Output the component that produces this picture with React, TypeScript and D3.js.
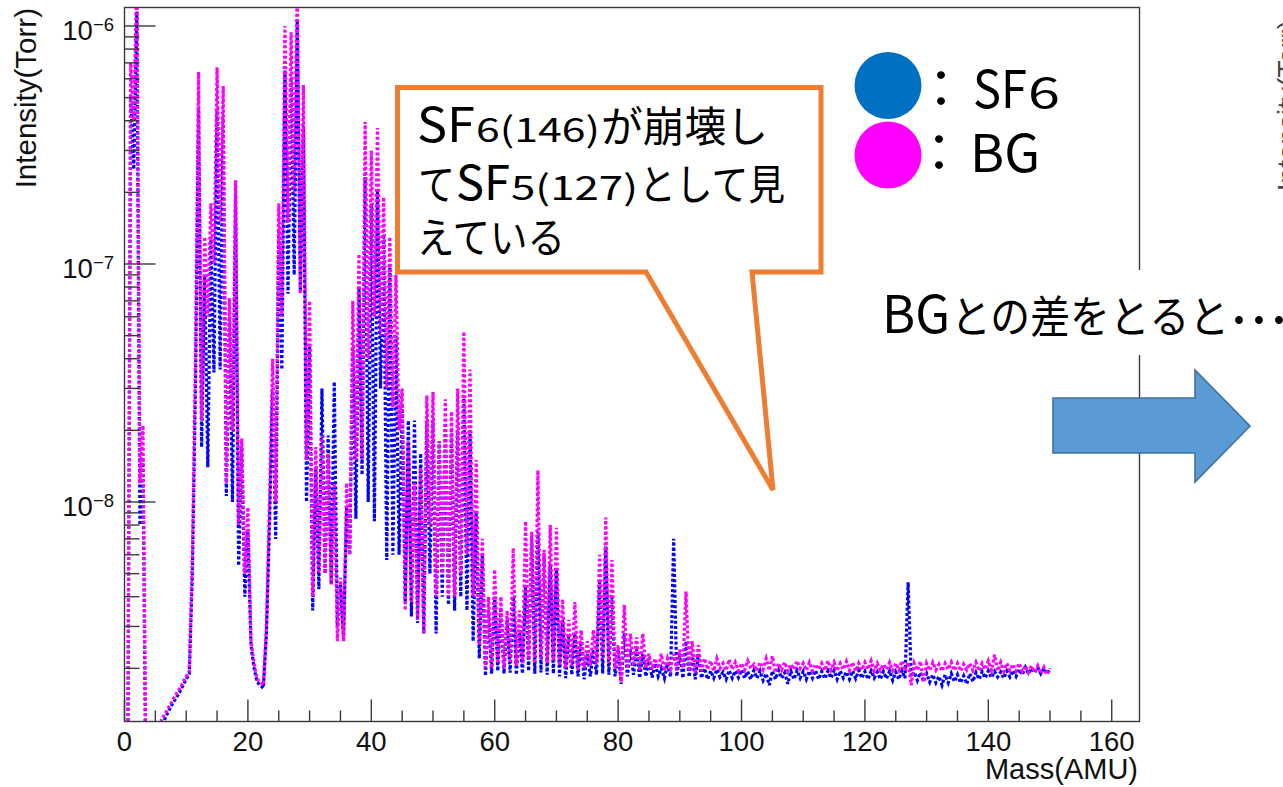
import React from 'react';
import * as d3 from 'd3';

// Mass axis ticks (AMU)
const X_MAJOR_TICKS = [0, 20, 40, 60, 80, 100, 120, 140, 160];
const X_MINOR_STEP = 5;
const Y_MAJOR_EXPONENTS = [-6, -7, -8];
const NTORR = 1e-9;

// Peak value at each integer mass 0..150 (nTorr) — BG (magenta)
const bgPeak = [
  0.5, 700, 1600, 21, 0.5, 0.5, 1.22, 1.35, 1.5, 1.65,
  1.85, 6, 640, 130, 180, 670, 560, 72, 225, 18.5,
  9.5, 2.1, 1.75, 3, 40, 180, 1000, 940, 1500, 565,
  70, 17, 19, 16, 12, 4.8, 12, 70, 110, 395,
  300, 373, 191, 130, 90, 30, 18, 12, 14, 28,
  29, 18, 27, 24, 30, 52, 36, 15, 7, 4,
  5.2, 4, 3.5, 6.4, 3.5, 8.3, 7.5, 13.6, 6.3, 8,
  7.8, 3.9, 3.2, 3.8, 2.9, 2.6, 2.9, 6, 8.6, 5.7,
  2.5, 3.7, 2.8, 2.7, 2.8, 2.3, 2.2, 2.3, 2.2, 2.3,
  2.4, 4.2, 2.6, 2.5, 2.2, 2.15, 2.2, 2.1, 2.18, 2.12,
  2.1, 2.15, 2.08, 2.12, 2.2, 2.25, 2.1, 2.12, 2.08, 2.15,
  2.1, 2.12, 2.08, 2.1, 2.15, 2.12, 2.1, 2.14, 2.12, 2.1,
  2.12, 2.15, 2.1, 2.08, 2.12, 2.1, 2.15, 2.12, 2.1, 2.14,
  2.1, 2.12, 2.08, 2.1, 2.12, 2.1, 2.08, 2.1, 2.12, 2.1,
  2.15, 2.28, 2.12, 2.1, 2.08, 2.1, 2.05, 2.05, 2.05, 2.02,
  2.0,
];
// Valley value between mass m and m+1 (nTorr) — BG
const bgValley = [
  0.5, 400, 12, 0.5, 0.5, 0.6, 1.28, 1.42, 1.58, 1.75,
  1.95, 40, 22, 60, 100, 150, 12, 20, 8, 5,
  2.6, 1.8, 1.7, 10, 10, 60, 150, 200, 75, 15,
  4, 5, 5, 4.5, 2.6, 2.6, 6, 15, 15, 40,
  60, 50, 30, 25, 20, 3.5, 3.8, 3.2, 2.8, 8,
  4, 5, 4, 4, 5, 6, 4, 2.5, 2.0, 2.0,
  2.1, 2.0, 2.1, 2.05, 2.1, 2.2, 2.1, 2.2, 2.1, 2.15,
  2.05, 2.0, 2.05, 1.95, 2.0, 2.05, 2.1, 2.2, 2.1, 2.0,
  1.75, 2.0, 2.05, 1.95, 2.0, 1.98, 2.0, 1.95, 2.0, 1.98,
  2.0, 1.95, 1.9, 1.95, 1.98, 1.95, 2.0, 1.96, 1.98, 1.95,
  1.97, 2.0, 1.95, 1.98, 1.96, 1.92, 1.97, 1.95, 1.98, 2.0,
  1.96, 1.95, 1.98, 1.96, 1.97, 1.95, 1.98, 1.96, 1.95, 1.97,
  1.98, 1.95, 1.96, 1.98, 1.96, 1.97, 1.95, 1.7, 1.96, 1.75,
  1.96, 1.97, 1.95, 1.98, 1.96, 1.95, 1.97, 1.96, 1.95, 1.98,
  1.96, 1.95, 1.94, 1.96, 1.95, 1.94, 1.92, 1.93, 1.9, 1.88,
];
// Peak value at each integer mass 0..150 (nTorr) — SF6 (blue)
const sf6Peak = [
  0.5, 500, 1150, 15, 0.5, 0.5, 1.1, 1.3, 1.45, 1.6,
  1.8, 5, 450, 90, 130, 450, 420, 60, 195, 17,
  7.5, 2.0, 1.7, 2.8, 30, 140, 650, 610, 1050, 380,
  45, 14, 30, 19, 32, 4.5, 9.5, 45, 80, 232,
  180, 205, 130, 100, 50, 26, 22, 22, 16, 22,
  22, 18, 20, 20, 20, 28, 20, 9, 6, 3.5,
  4, 3.6, 3.2, 4, 2.9, 4.4, 7, 7.5, 6, 5.5,
  5.2, 3.2, 2.8, 2.8, 2.6, 2.3, 2.4, 4.6, 6.5, 4,
  2.4, 2.8, 2.4, 2.4, 2.3, 2.2, 2.1, 2.0, 2.1, 7.0,
  2.3, 2.6, 2.3, 2.3, 2.0, 1.95, 1.98, 1.93, 1.96, 1.95,
  1.97, 1.94, 1.96, 1.95, 1.9, 1.95, 1.96, 1.92, 1.95, 1.96,
  1.94, 1.95, 1.96, 1.94, 1.95, 1.96, 1.95, 1.93, 1.95, 1.96,
  1.94, 1.95, 1.93, 1.94, 1.95, 1.93, 1.96, 4.6, 1.93, 1.92,
  1.9, 1.88, 1.85, 1.88, 1.9, 1.88, 1.86, 1.9, 1.92, 1.94,
  1.95, 1.94, 1.93, 1.95, 1.96, 1.98, 2.02, 2.0, 2.02, 2.0,
  1.98,
];
// Valley value between mass m and m+1 (nTorr) — SF6
const sf6Valley = [
  0.5, 250, 8, 0.5, 0.5, 0.5, 1.22, 1.38, 1.52, 1.7,
  1.9, 30, 17, 14, 35, 36, 10.6, 10, 5.4, 4,
  2.5, 1.75, 1.65, 8, 7, 36, 75, 90, 77, 10,
  3.5, 4.3, 5, 4.5, 3, 2.6, 6, 8.5, 13, 10,
  8.3, 30, 5.7, 6, 6, 3.8, 3.3, 3.1, 2.8, 5,
  2.8, 4, 3.7, 3.5, 4, 3.5, 2.6, 2.2, 1.86, 1.9,
  1.95, 1.9, 1.92, 1.88, 1.9, 1.95, 1.9, 1.92, 1.88, 1.9,
  1.85, 1.82, 1.88, 1.85, 1.8, 1.85, 1.88, 1.9, 1.88, 1.85,
  1.72, 1.85, 1.88, 1.82, 1.85, 1.83, 1.85, 1.82, 1.84, 1.85,
  1.82, 1.84, 1.8, 1.82, 1.8, 1.82, 1.84, 1.8, 1.82, 1.83,
  1.82, 1.8, 1.82, 1.78, 1.7, 1.8, 1.82, 1.72, 1.8, 1.82,
  1.8, 1.82, 1.8, 1.81, 1.82, 1.8, 1.82, 1.8, 1.81, 1.82,
  1.8, 1.82, 1.8, 1.81, 1.78, 1.8, 1.82, 1.85, 1.78, 1.76,
  1.75, 1.74, 1.7, 1.74, 1.76, 1.74, 1.72, 1.76, 1.8, 1.82,
  1.83, 1.84, 1.82, 1.84, 1.85, 1.88, 1.9, 1.92, 1.9, 1.9,
];

const W = 1283;
const H = 787;
const PL = 124.5, PR = 1139.5, PT = 7.5, PB = 721.5;
const AXIS_FONT = "'Liberation Sans', Arial, Helvetica, sans-serif";
const JP_FONT = "'Noto Sans CJK JP', 'Noto Sans', sans-serif";

type Pt = [number, number];

function buildSeries(peaks: number[], valleys: number[]): Pt[] {
  const pts: Pt[] = [];
  peaks.forEach((v, i) => {
    pts.push([i, v * NTORR]);
    if (i < valleys.length) pts.push([i + 0.5, valleys[i] * NTORR]);
  });
  return pts;
}

export default function App() {
  const x = d3.scaleLinear().domain([0, 164.5]).range([PL, PR]);
  const y = d3.scaleLog().domain([1.196e-9, 1.196e-6]).range([PB, PT]);

  const line = d3
    .line<Pt>()
    .x((d) => x(d[0]))
    .y((d) => y(d[1]));

  const sf6Path = line(buildSeries(sf6Peak, sf6Valley)) || '';
  const bgPath = line(buildSeries(bgPeak, bgValley)) || '';

  const xMinor = d3.range(0, 161, X_MINOR_STEP).filter((v) => v % 20 !== 0);
  const yTicks = y.ticks();
  const isMajor = (v: number) => Math.abs(Math.log10(v) - Math.round(Math.log10(v))) < 1e-6;

  const axisColor = '#3a3a3a';

  return (
    <svg
      width={W}
      height={H}
      viewBox={`0 0 ${W} ${H}`}
      style={{ position: 'absolute', left: 0, top: 0, background: '#fff' }}
    >
      <defs>
        <clipPath id="plotClip">
          <rect x={PL} y={PT} width={PR - PL} height={PB - PT} />
        </clipPath>
      </defs>
      <rect x={0} y={0} width={W} height={H} fill="#fff" />

      {/* data */}
      <g clipPath="url(#plotClip)" fill="none">
        <path d={sf6Path} stroke="#0000ff" strokeWidth={3.2} strokeDasharray="3 2.2" />
        <path d={bgPath} stroke="#ff00ff" strokeWidth={3.2} strokeDasharray="3 2.2" />
      </g>

      {/* frame */}
      <rect x={PL} y={PT} width={PR - PL} height={PB - PT} fill="none" stroke={axisColor} strokeWidth={1.4} />

      {/* x ticks */}
      {X_MAJOR_TICKS.map((t) => (
        <g key={'xm' + t}>
          <line x1={x(t)} x2={x(t)} y1={PB} y2={PB - 22} stroke={axisColor} strokeWidth={1.4} />
          <text
            x={x(t)}
            y={751}
            textAnchor="middle"
            fontFamily={AXIS_FONT}
            fontSize={27.5}
            fill="#111"
          >
            {t}
          </text>
        </g>
      ))}
      {xMinor.map((t) => (
        <line key={'xn' + t} x1={x(t)} x2={x(t)} y1={PB} y2={PB - 11} stroke={axisColor} strokeWidth={1.4} />
      ))}

      {/* y ticks */}
      {yTicks.map((t, i) => (
        <line
          key={'yt' + i}
          x1={PL}
          x2={PL + (isMajor(t) ? 31 : 15)}
          y1={y(t)}
          y2={y(t)}
          stroke={axisColor}
          strokeWidth={1.4}
        />
      ))}
      {Y_MAJOR_EXPONENTS.map((e) => (
        <text
          key={'yl' + e}
          x={114}
          y={y(Math.pow(10, e)) + 14}
          textAnchor="end"
          fontFamily={AXIS_FONT}
          fontSize={27.5}
          fill="#111"
        >
          10
          <tspan fontSize={18.5} dy={-9}>
            {'\u2212' + Math.abs(e)}
          </tspan>
        </text>
      ))}

      {/* axis titles */}
      <text
        transform="translate(36,8) rotate(-90)"
        textAnchor="end"
        fontFamily={AXIS_FONT}
        fontSize={29.5}
        fill="#111"
      >
        Intensity(Torr)
      </text>
      <text x={1138} y={779} textAnchor="end" fontFamily={AXIS_FONT} fontSize={29} fill="#111">
        Mass(AMU)
      </text>

      {/* partial second chart title at right edge */}
      <text
        transform="translate(1297,20) rotate(-90)"
        textAnchor="end"
        fontFamily={AXIS_FONT}
        fontSize={28}
        fill="#444"
      >
        Intensity(Torr)
      </text>

      {/* callout */}
      <path
        d="M397.5,87.5 H821 V272 H752 L773,490 L646,272 H397.5 Z"
        fill="#fff"
        stroke="#ed7d31"
        strokeWidth={5}
        strokeLinejoin="miter"
      />
      <g fontFamily={JP_FONT} fill="#000">
        <text x={417} y={142} fontSize={48} textLength={58} lengthAdjust="spacingAndGlyphs">SF</text>
        <text x={476} y={142} fontSize={34} textLength={124} lengthAdjust="spacingAndGlyphs">6(146)</text>
        <text x={601} y={142} fontSize={42} textLength={167} lengthAdjust="spacingAndGlyphs">が崩壊し</text>

        <text x={418} y={200} fontSize={42} textLength={37} lengthAdjust="spacingAndGlyphs">て</text>
        <text x={456} y={200} fontSize={48} textLength={54} lengthAdjust="spacingAndGlyphs">SF</text>
        <text x={511} y={200} fontSize={34} textLength={127} lengthAdjust="spacingAndGlyphs">5(127)</text>
        <text x={639} y={200} fontSize={42} textLength={146} lengthAdjust="spacingAndGlyphs">として見</text>

        <text x={417} y={253} fontSize={42} textLength={148} lengthAdjust="spacingAndGlyphs">えている</text>
      </g>

      {/* legend */}
      <circle cx={888} cy={85.5} r={33.5} fill="#0070c0" />
      <circle cx={888} cy={155} r={33.5} fill="#ff00ff" />
      <g fontFamily={JP_FONT} fill="#000">
        <text x={915} y={108} fontSize={52}>：</text>
        <text x={973} y={108} fontSize={52} textLength={54} lengthAdjust="spacingAndGlyphs">SF</text>
        <text x={1028} y={108} fontSize={42} textLength={32} lengthAdjust="spacingAndGlyphs">6</text>
        <text x={913} y={172} fontSize={52}>：</text>
        <text x={970} y={172} fontSize={52} textLength={70} lengthAdjust="spacingAndGlyphs">BG</text>
      </g>

      {/* "BGとの差をとると…" with white background */}
      <rect x={870} y={270} width={413} height={85} fill="#fff" />
      <g fontFamily={JP_FONT} fill="#000">
        <text x={882} y={333} fontSize={52} textLength={68} lengthAdjust="spacingAndGlyphs">BG</text>
        <text x={951} y={333} fontSize={44} textLength={278} lengthAdjust="spacingAndGlyphs">との差をとると</text>
        <text x={1229} y={343} fontSize={60}>…</text>
      </g>

      {/* arrow */}
      <polygon
        points="1053,398 1195,398 1195,370 1250,426 1195,482 1195,453 1053,453"
        fill="#5b9bd5"
        stroke="#41719c"
        strokeWidth={1.6}
      />
    </svg>
  );
}
